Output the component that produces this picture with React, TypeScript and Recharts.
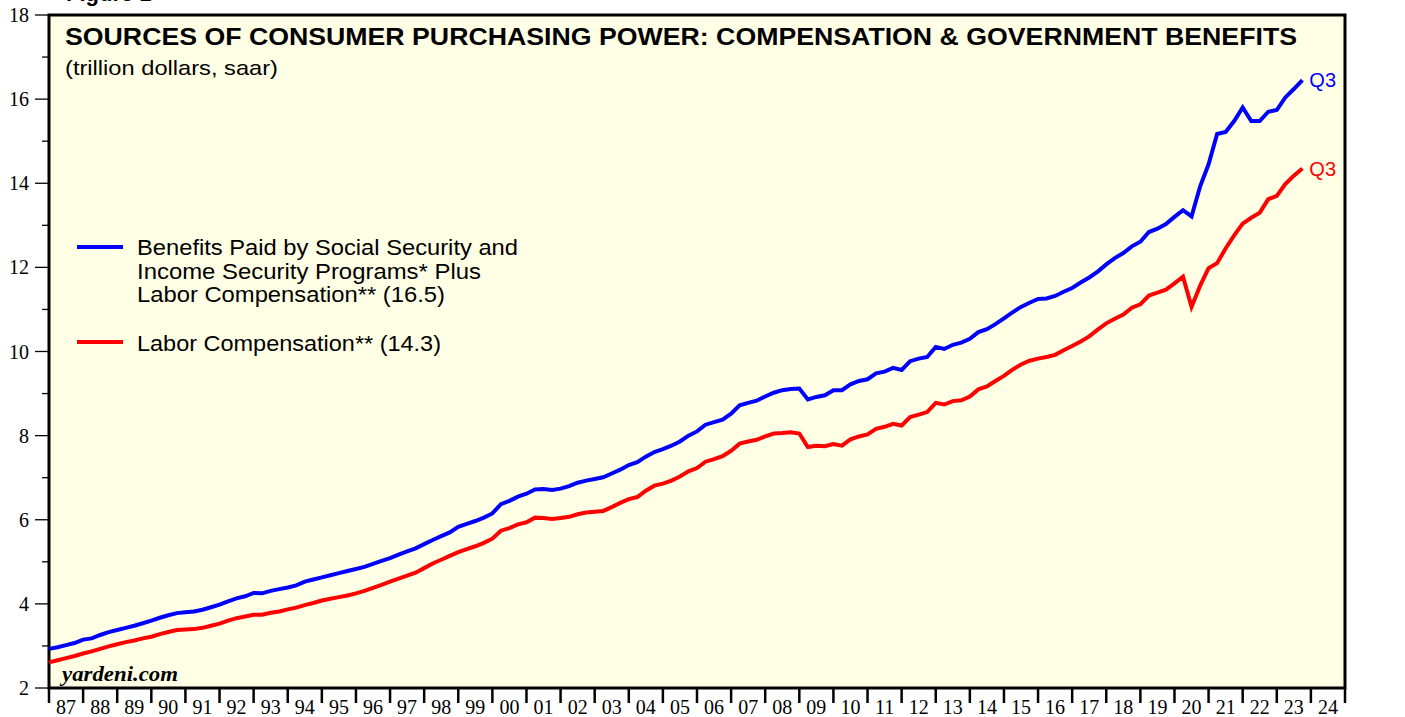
import { LineChart, Line, XAxis, YAxis, CartesianGrid, ReferenceArea, LabelList } from 'recharts';

// quarterly, 1986Q4 .. 2023Q3 (trillion $, saar)
const benefitsPlusComp = [
  2.93, 2.97, 3.02, 3.07, 3.15, 3.18, 3.26, 3.33,
  3.38, 3.43, 3.48, 3.54, 3.60, 3.67, 3.73, 3.78,
  3.80, 3.82, 3.86, 3.92, 3.98, 4.06, 4.13, 4.18,
  4.26, 4.25, 4.31, 4.35, 4.39, 4.44, 4.53, 4.58,
  4.63, 4.68, 4.73, 4.78, 4.83, 4.88, 4.95, 5.02,
  5.09, 5.17, 5.25, 5.32, 5.42, 5.52, 5.61, 5.70,
  5.83, 5.90, 5.97, 6.05, 6.15, 6.37, 6.45, 6.55,
  6.62, 6.72, 6.73, 6.71, 6.74, 6.80, 6.88, 6.93,
  6.97, 7.01, 7.10, 7.19, 7.30, 7.37, 7.50, 7.61,
  7.68, 7.76, 7.86, 8.00, 8.10, 8.26, 8.32, 8.38,
  8.52, 8.72, 8.78, 8.83, 8.93, 9.02, 9.08, 9.11,
  9.12, 8.86, 8.92, 8.96, 9.08, 9.08, 9.22, 9.30,
  9.34, 9.48, 9.52, 9.61, 9.56, 9.77, 9.83, 9.87,
  10.11, 10.06, 10.16, 10.21, 10.30, 10.46, 10.53, 10.65,
  10.79, 10.93, 11.06, 11.16, 11.25, 11.26, 11.32, 11.42,
  11.51, 11.64, 11.76, 11.90, 12.07, 12.22, 12.34, 12.50,
  12.61, 12.84, 12.92, 13.03, 13.20, 13.36, 13.21, 13.92,
  14.45, 15.17, 15.22, 15.48, 15.80, 15.48, 15.48, 15.70,
  15.74, 16.04, 16.24, 16.45,
];

const laborComp = [
  2.61, 2.66, 2.71, 2.76, 2.82, 2.87, 2.93, 2.99,
  3.04, 3.09, 3.13, 3.18, 3.22, 3.28, 3.33, 3.38,
  3.39, 3.40, 3.43, 3.48, 3.53, 3.60, 3.66, 3.70,
  3.74, 3.74, 3.79, 3.82, 3.87, 3.91, 3.97, 4.02,
  4.08, 4.12, 4.16, 4.20, 4.25, 4.31, 4.38, 4.45,
  4.53, 4.60, 4.67, 4.74, 4.85, 4.96, 5.05, 5.14,
  5.23, 5.30, 5.37, 5.45, 5.55, 5.74, 5.80, 5.89,
  5.94, 6.05, 6.04, 6.02, 6.04, 6.07, 6.13, 6.17,
  6.19, 6.21, 6.30, 6.40, 6.49, 6.54, 6.69, 6.81,
  6.86, 6.93, 7.03, 7.15, 7.23, 7.38, 7.44, 7.51,
  7.64, 7.81, 7.86, 7.90, 7.98, 8.05, 8.06, 8.08,
  8.05, 7.73, 7.76, 7.75, 7.80, 7.76, 7.91, 7.98,
  8.03, 8.16, 8.21, 8.28, 8.24, 8.44, 8.50, 8.56,
  8.78, 8.74, 8.82, 8.84, 8.93, 9.10, 9.17, 9.30,
  9.42, 9.57, 9.69, 9.78, 9.83, 9.87, 9.92, 10.03,
  10.13, 10.24, 10.36, 10.52, 10.67, 10.78, 10.88, 11.04,
  11.12, 11.33, 11.40, 11.47, 11.62, 11.78, 11.06, 11.56,
  11.98, 12.10, 12.45, 12.76, 13.04, 13.18, 13.30, 13.62,
  13.70, 13.98, 14.18, 14.35,
];

const yearLabels = [
  '87', '88', '89', '90', '91', '92', '93', '94', '95', '96', '97', '98', '99',
  '00', '01', '02', '03', '04', '05', '06', '07', '08', '09', '10', '11', '12',
  '13', '14', '15', '16', '17', '18', '19', '20', '21', '22', '23', '24',
];
const yTicks = [2, 3, 4, 5, 6, 7, 8, 9, 10, 11, 12, 13, 14, 15, 16, 17, 18];
const firstYear = 1987;
const lastYear = 2025;

const data = benefitsPlusComp.map((v, i) => ({
  t: firstYear + i / 4,
  total: v,
  comp: laborComp[i],
}));
const xTicks = [...yearLabels.map((_, i) => firstYear + i), lastYear];

const W = 1405;
const H = 717;
const PLOT_L = 49;
const PLOT_R = 1345;
const PLOT_T = 15;
const PLOT_B = 688;
const yearPx = (PLOT_R - PLOT_L) / (lastYear - firstYear);

const serif = '"Liberation Serif", "DejaVu Serif", serif';
const sans = '"Liberation Sans", Arial, sans-serif';

const LeftTick = ({ x, y, payload }: any) => {
  const major = payload.value % 2 === 0;
  return (
    <g>
      <line x1={x - (major ? 14 : 7)} x2={x} y1={y} y2={y} stroke="#000" strokeWidth={1.3} />
      {major && (
        <text x={x - 20} y={y + 7} textAnchor="end" fontFamily={serif} fontSize={20} fill="#000">
          {payload.value}
        </text>
      )}
    </g>
  );
};

const RightTick = ({ x, y, payload }: any) => {
  const major = payload.value % 2 === 0;
  return (
    <g>
      <line x1={x} x2={x + (major ? 15 : 8)} y1={y} y2={y} stroke="#000" strokeWidth={1.3} />
      {major && (
        <text x={x + 22} y={y + 7} textAnchor="start" fontFamily={serif} fontSize={20} fill="#000">
          {payload.value}
        </text>
      )}
    </g>
  );
};

const YearTick = ({ x, y, payload }: any) => {
  const idx = payload.value - firstYear;
  return (
    <g>
      <line x1={x} x2={x} y1={y} y2={y + 15} stroke="#000" strokeWidth={2.5} />
      {idx < yearLabels.length && (
        <text x={x + yearPx / 2} y={y + 26} textAnchor="middle" fontFamily={serif} fontSize={20} fill="#000">
          {yearLabels[idx]}
        </text>
      )}
    </g>
  );
};

const endLabel = (color: string) => (props: any) => {
  const { x, y, index } = props;
  if (index !== data.length - 1) return null;
  return (
    <text x={x + 7} y={y + 7} fontFamily={sans} fontSize={20} fill={color}>
      Q3
    </text>
  );
};

export default function App() {
  return (
    <div style={{ position: 'absolute', left: 0, top: 0, width: W, height: H, background: '#fff' }}>
      <LineChart width={W} height={H} data={data} margin={{ top: PLOT_T, right: 0, bottom: 0, left: 0 }}>
        <CartesianGrid horizontal={false} vertical={false} fill="#ffffe6" yAxisId="left" />
        <XAxis
          dataKey="t"
          type="number"
          domain={[firstYear, lastYear]}
          ticks={xTicks}
          interval={0}
          height={H - PLOT_B}
          axisLine={false}
          tickLine={false}
          tickSize={0}
          tickMargin={0}
          tick={<YearTick />}
        />
        <YAxis
          yAxisId="left"
          orientation="left"
          domain={[2, 18]}
          ticks={yTicks}
          interval={0}
          width={PLOT_L}
          axisLine={false}
          tickLine={false}
          tickSize={0}
          tickMargin={0}
          tick={<LeftTick />}
        />
        <YAxis
          yAxisId="right"
          orientation="right"
          domain={[2, 18]}
          ticks={yTicks}
          interval={0}
          width={W - PLOT_R}
          axisLine={false}
          tickLine={false}
          tickSize={0}
          tickMargin={0}
          tick={<RightTick />}
        />
        <Line
          yAxisId="left"
          dataKey="comp"
          type="linear"
          stroke="#ff0000"
          strokeWidth={4}
          dot={false}
          isAnimationActive={false}
        >
          <LabelList dataKey="comp" content={endLabel('#ff0000')} />
        </Line>
        <Line
          yAxisId="left"
          dataKey="total"
          type="linear"
          stroke="#0000ff"
          strokeWidth={4}
          dot={false}
          isAnimationActive={false}
        >
          <LabelList dataKey="total" content={endLabel('#0000ff')} />
        </Line>
        <ReferenceArea
          yAxisId="left"
          x1={firstYear}
          x2={lastYear}
          y1={2}
          y2={18}
          fill="none"
          stroke="#000"
          strokeWidth={3}
          ifOverflow="visible"
        />
      </LineChart>
      <svg width={W} height={H} style={{ position: 'absolute', left: 0, top: 0, pointerEvents: 'none' }}>
        <text x={66} y={1} fontFamily={sans} fontWeight="bold" fontSize={22} fill="#000">Figure 1</text>
        <text
          x={65}
          y={45}
          fontFamily={sans}
          fontWeight="bold"
          fontSize={24}
          textLength={1232}
          lengthAdjust="spacingAndGlyphs"
          fill="#000"
        >
          SOURCES OF CONSUMER PURCHASING POWER: COMPENSATION &amp; GOVERNMENT BENEFITS
        </text>
        <text x={65} y={75} fontFamily={sans} fontSize={21} textLength={213} lengthAdjust="spacingAndGlyphs" fill="#000">
          (trillion dollars, saar)
        </text>
        <line x1={77} x2={123} y1={247} y2={247} stroke="#0000ff" strokeWidth={4} />
        <text fontFamily={sans} fontSize={21.5} fill="#000">
          <tspan x={137} y={255} textLength={381} lengthAdjust="spacingAndGlyphs">Benefits Paid by Social Security and</tspan>
          <tspan x={137} y={279} textLength={344} lengthAdjust="spacingAndGlyphs">Income Security Programs* Plus</tspan>
          <tspan x={137} y={302} textLength={308} lengthAdjust="spacingAndGlyphs">Labor Compensation** (16.5)</tspan>
        </text>
        <line x1={77} x2={123} y1={342} y2={342} stroke="#ff0000" strokeWidth={4} />
        <text x={137} y={351} fontFamily={sans} fontSize={21.5} textLength={304} lengthAdjust="spacingAndGlyphs" fill="#000">
          Labor Compensation** (14.3)
        </text>
        <text
          x={62}
          y={681}
          fontFamily={serif}
          fontWeight="bold"
          fontStyle="italic"
          fontSize={22}
          textLength={116}
          lengthAdjust="spacingAndGlyphs"
          fill="#000"
        >
          yardeni.com
        </text>
      </svg>
    </div>
  );
}
